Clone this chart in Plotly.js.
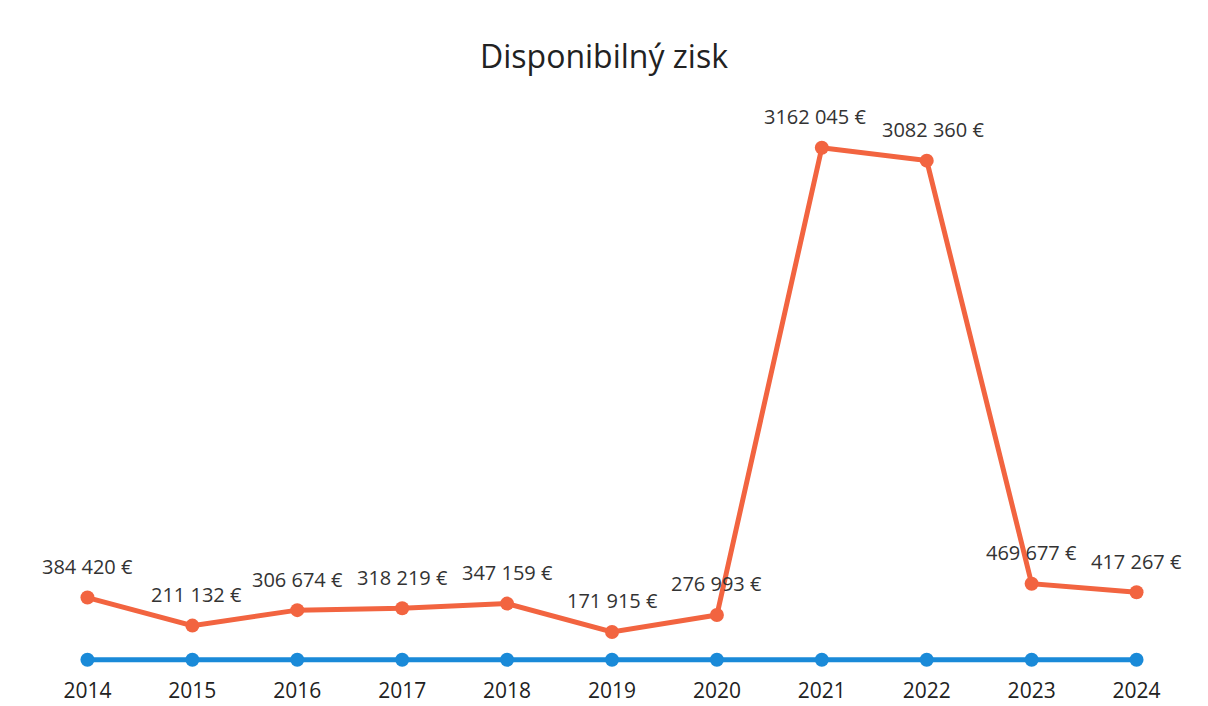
<!DOCTYPE html>
<html>
<head>
<meta charset="utf-8">
<script src="https://cdn.plot.ly/plotly-3.0.1.min.js"></script>
<style>html,body{margin:0;padding:0;background:#fff;}#chart{width:1208px;height:706px;}</style>
</head>
<body>
<div id="chart"></div>
<script>
var years = ['2014','2015','2016','2017','2018','2019','2020','2021','2022','2023','2024'];
var profit = [384420, 211132, 306674, 318219, 347159, 171915, 276993, 3162045, 3082360, 469677, 417267];
var baseline = [0, 0, 0, 0, 0, 0, 0, 0, 0, 0, 0];
var profitLabels = ['384 420 €','211 132 €','306 674 €','318 219 €','347 159 €','171 915 €','276 993 €','3162 045 €','3082 360 €','469 677 €','417 267 €'];
var labelDx = [0, 4, 0, 0, 0, 0, 0, -7, 6, 0, 0];

var orange = '#F26440';
var blue = '#1A8AD8';

var traces = [
  {x: years, y: baseline, type: 'scatter', mode: 'lines+markers',
   line: {color: blue, width: 5}, marker: {color: blue, size: 14},
   cliponaxis: false, hoverinfo: 'skip', showlegend: false},
  {x: years, y: profit, type: 'scatter', mode: 'lines+markers',
   line: {color: orange, width: 5}, marker: {color: orange, size: 14},
   cliponaxis: false, showlegend: false}
];

var annotations = years.map(function(yr, i){
  return {x: i, y: profit[i], xref: 'x', yref: 'y', text: profitLabels[i],
    showarrow: false, yshift: 31, xshift: labelDx[i],
    font: {family: 'Open Sans, sans-serif', size: 20, color: '#333'}};
});

var layout = {
  width: 1208, height: 706,
  paper_bgcolor: '#fff', plot_bgcolor: '#fff',
  margin: {l: 35, r: 19, t: 93, b: 30},
  title: {text: 'Disponibilný zisk', x: 0.5, xanchor: 'center', y: 0.92, yanchor: 'middle',
          font: {family: 'Open Sans, sans-serif', size: 32, color: '#222'}},
  xaxis: {type: 'category', range: [-0.5, 10.5], showgrid: false, zeroline: false,
          showline: false, ticks: '', tickfont: {family: 'Open Sans, sans-serif', size: 21, color: '#222'}},
  yaxis: {range: [-100000, 3500000], showgrid: false, zeroline: false, showline: false,
          showticklabels: false, ticks: ''},
  annotations: annotations
};

Plotly.newPlot('chart', traces, layout, {displayModeBar: false, staticPlot: true});
</script>
</body>
</html>
